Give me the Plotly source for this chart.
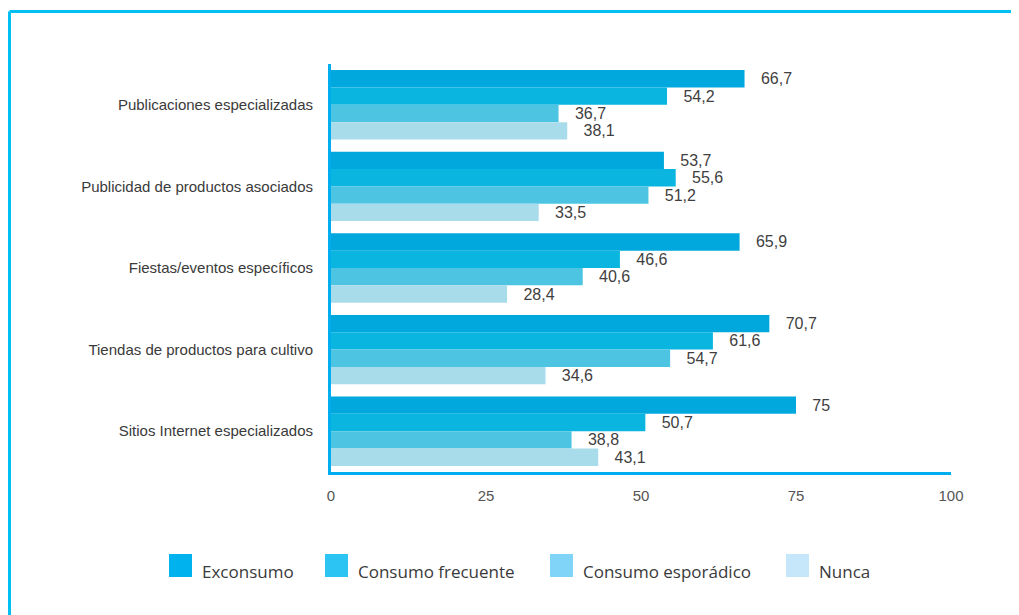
import plotly.graph_objects as go

# Datos del grafico
categorias = [
    "Publicaciones especializadas",
    "Publicidad de productos asociados",
    "Fiestas/eventos específicos",
    "Tiendas de productos para cultivo",
    "Sitios Internet especializados",
]
series = ["Exconsumo", "Consumo frecuente", "Consumo esporádico", "Nunca"]
exconsumo = [66.7, 53.7, 65.9, 70.7, 75]
consumo_frecuente = [54.2, 55.6, 46.6, 61.6, 50.7]
consumo_esporadico = [36.7, 51.2, 40.6, 54.7, 38.8]
nunca = [38.1, 33.5, 28.4, 34.6, 43.1]
x_ticks = [0, 25, 50, 75, 100]

valores = [exconsumo, consumo_frecuente, consumo_esporadico, nunca]
colores_barra = ["#00A8DD", "#0AB5E0", "#4CC4E2", "#A8DCEB"]
colores_leyenda = ["#00B3EF", "#2CC4F2", "#80D4F7", "#C5E7F9"]

# la pagina tiene 8px de margen en el body
OFF = 8
W, H = 1019 - OFF, 615 - OFF
L, T = 331 - OFF, 64 - OFF
R = W - (951 - OFF)
B = H - (472 - OFF)
pw, ph = W - L - R, H - T - B


# pixel de la ventana -> coordenadas paper
def px(x):
    return (x - OFF - L) / pw


def py(y):
    return (H - B - (y - OFF)) / ph


def fmt(v):
    s = str(int(v)) if v == int(v) else f"{v:.1f}"
    return "\u00a0\u00a0\u00a0" + s.replace(".", ",")


fig = go.Figure()
for nombre, vals, col in zip(series, valores, colores_barra):
    fig.add_trace(go.Bar(
        y=categorias, x=vals, orientation="h", name=nombre,
        marker=dict(color=col, line=dict(width=0)),
        text=[fmt(v) for v in vals], textposition="outside",
        textfont=dict(family="Liberation Sans, Arial", size=16, color="#3f3f3f"),
        cliponaxis=False, showlegend=False,
    ))

# Leyenda manual
ley_x = [169, 325, 550, 786]
shapes = []
annotations = []
for nombre, col, x0 in zip(series, colores_leyenda, ley_x):
    shapes.append(dict(type="rect", xref="paper", yref="paper",
                       x0=px(x0), x1=px(x0 + 23), y0=py(577), y1=py(554),
                       fillcolor=col, line=dict(width=0)))
    annotations.append(dict(xref="paper", yref="paper", x=px(x0 + 31), y=py(571),
                            text=nombre, showarrow=False, xanchor="left", yanchor="middle",
                            font=dict(family="Open Sans, Lato", size=17, color="#3a3a3a")))

# Marco azul
shapes.append(dict(type="line", xref="paper", yref="paper",
                   x0=px(9.5), x1=px(1030), y0=py(11.5), y1=py(11.5),
                   line=dict(color="#00BFF3", width=3)))
shapes.append(dict(type="line", xref="paper", yref="paper",
                   x0=px(9.5), x1=px(9.5), y0=py(11.5), y1=py(630),
                   line=dict(color="#00BFF3", width=3)))

fig.update_layout(
    width=W, height=H,
    margin=dict(l=L, r=R, t=T, b=B),
    paper_bgcolor="white", plot_bgcolor="white",
    barmode="group", bargap=0.15, bargroupgap=0,
    shapes=shapes, annotations=annotations,
    xaxis=dict(range=[0, 100], tickvals=x_ticks, ticktext=[str(t) for t in x_ticks],
               showgrid=False, zeroline=False, showline=True, linecolor="#00AEEF",
               linewidth=3, ticks="", ticklabelstandoff=8,
               tickfont=dict(family="Liberation Sans, Arial", size=15, color="#555555")),
    yaxis=dict(autorange="reversed", showgrid=False, zeroline=False, showline=True,
               linecolor="#00AEEF", linewidth=3, ticks="", ticklabelstandoff=12,
               tickfont=dict(family="Liberation Sans, Arial", size=15, color="#3a3a3a")),
)

fig.write_html("out.html")
